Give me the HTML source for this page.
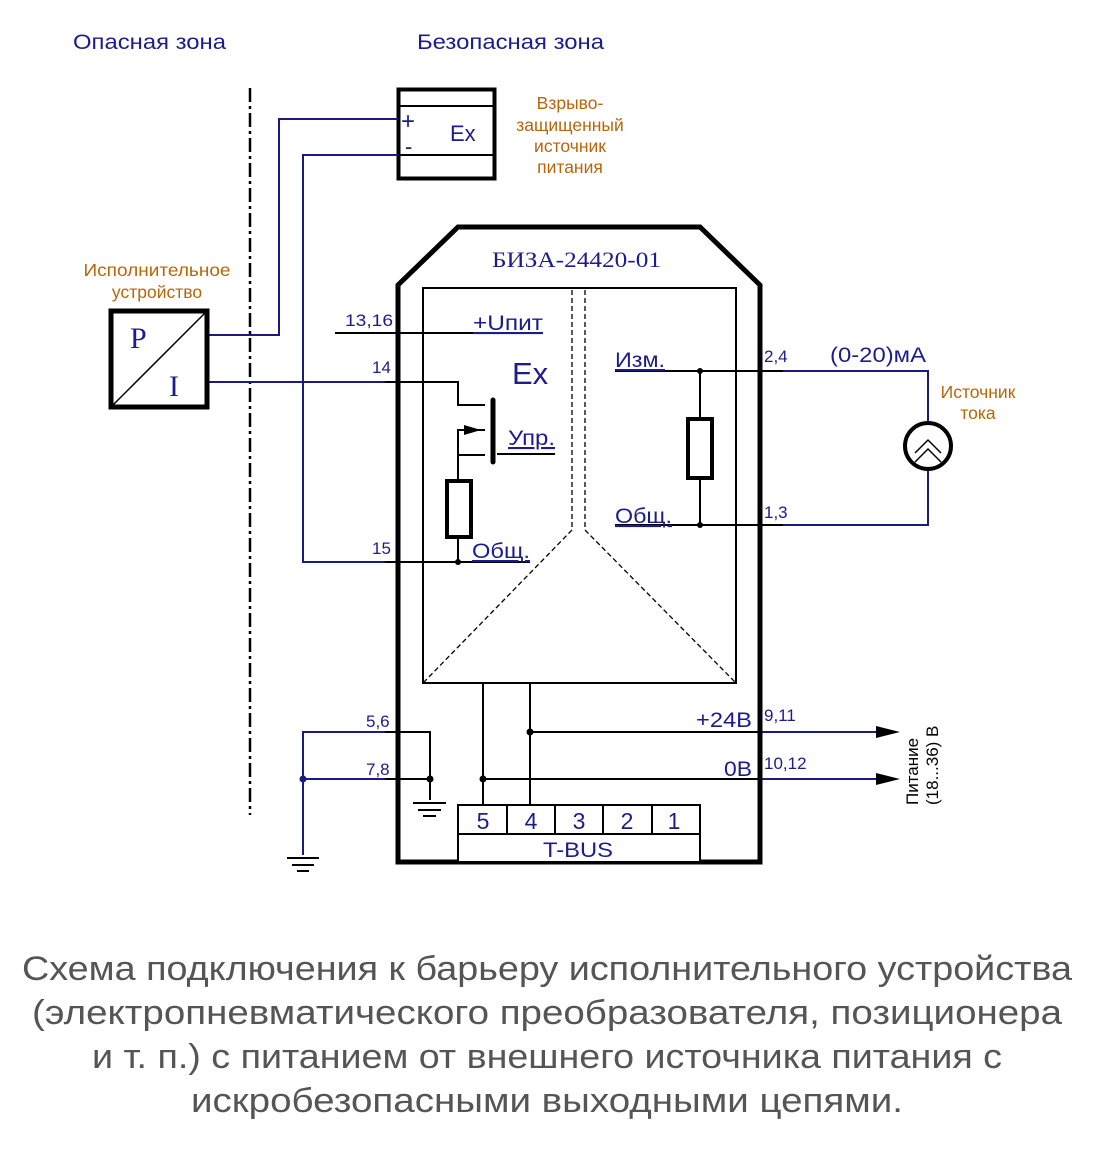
<!DOCTYPE html>
<html><head><meta charset="utf-8"><style>
html,body{margin:0;padding:0;background:#fff;width:1116px;height:1151px;overflow:hidden}
svg{display:block}
</style></head><body>
<svg width="1116" height="1151" viewBox="0 0 1116 1151" xmlns="http://www.w3.org/2000/svg" font-family="Liberation Sans, sans-serif">
<g fill="#1c1c8c" font-size="21">
<text x="73" y="49" textLength="153" lengthAdjust="spacingAndGlyphs">Опасная зона</text>
<text x="417" y="49" textLength="187" lengthAdjust="spacingAndGlyphs">Безопасная зона</text>
</g>
<line x1="250" y1="88" x2="250" y2="815" stroke="#000" stroke-width="2.5" stroke-dasharray="14,4,3,4"/>
<rect x="398.5" y="89.5" width="96" height="89" fill="none" stroke="#000" stroke-width="4"/>
<line x1="398" y1="106" x2="495" y2="106" stroke="#000" stroke-width="2"/>
<line x1="398" y1="155" x2="495" y2="155" stroke="#000" stroke-width="2"/>
<text x="401" y="129" font-size="24" fill="#1c1c8c">+</text>
<text x="405" y="154" font-size="22" fill="#1c1c8c">-</text>
<text x="450" y="141" font-size="22" fill="#1c1c8c">Ex</text>
<g fill="#b8660a" font-size="17.5" text-anchor="middle">
<text x="570" y="109">Взрыво-</text>
<text x="570" y="131">защищенный</text>
<text x="570" y="152">источник</text>
<text x="570" y="173">питания</text>
<text x="157" y="276" textLength="147" lengthAdjust="spacingAndGlyphs">Исполнительное</text>
<text x="157" y="298">устройство</text>
<text x="978" y="398">Источник</text>
<text x="978" y="419">тока</text>
</g>
<g stroke="#1a1a80" stroke-width="2" fill="none">
<polyline points="209,335 279,335 279,119 398,119"/>
<polyline points="385,562 303,562 303,155 398,155"/>
<line x1="209" y1="382" x2="385" y2="382"/>
<polyline points="783,371 928,371 928,422"/>
<polyline points="928,470 928,525 783,525"/>
<line x1="760" y1="732" x2="880" y2="732"/>
<line x1="760" y1="779" x2="880" y2="779"/>
<polyline points="385,732 303,732 303,855"/>
<line x1="303" y1="779" x2="385" y2="779"/>
</g>
<rect x="111" y="311" width="96" height="96" fill="none" stroke="#000" stroke-width="5"/>
<line x1="112" y1="406" x2="206" y2="312" stroke="#000" stroke-width="1.5"/>
<text x="130" y="348" font-family="Liberation Serif, serif" font-size="30" fill="#1c1c8c">P</text>
<text x="169" y="396" font-family="Liberation Serif, serif" font-size="30" fill="#1c1c8c">I</text>
<polygon points="398,285 458,227 700,227 760,285 760,862 398,862" fill="none" stroke="#000" stroke-width="5"/>
<text x="492" y="267" font-family="Liberation Serif, serif" font-size="22" fill="#1c1c8c" textLength="169" lengthAdjust="spacingAndGlyphs">БИЗА-24420-01</text>
<rect x="423" y="288" width="313" height="395" fill="none" stroke="#000" stroke-width="2"/>
<g stroke="#000" stroke-width="1.3" stroke-dasharray="5,3" fill="none">
<line x1="572" y1="290" x2="572" y2="530"/>
<line x1="585" y1="290" x2="585" y2="530"/>
<line x1="572" y1="530" x2="424" y2="682"/>
<line x1="585" y1="530" x2="735" y2="682"/>
</g>
<g stroke="#000" stroke-width="2" fill="none">
<line x1="335" y1="333" x2="543" y2="333"/>
<polyline points="385,382 458,382 458,405 485,405"/>
<polyline points="485,430 458,430 458,480"/>
<polyline points="485,455 458,455"/>
<line x1="497" y1="454" x2="555" y2="454"/>
<line x1="458" y1="538" x2="458" y2="562"/>
<line x1="385" y1="562" x2="530" y2="562"/>
<line x1="615" y1="371" x2="783" y2="371"/>
<line x1="615" y1="525" x2="783" y2="525"/>
<line x1="700" y1="371" x2="700" y2="418"/>
<line x1="700" y1="480" x2="700" y2="525"/>
<line x1="483" y1="683" x2="483" y2="805"/>
<line x1="530" y1="683" x2="530" y2="805"/>
<line x1="530" y1="732" x2="760" y2="732"/>
<line x1="483" y1="779" x2="760" y2="779"/>
<polyline points="385,732 430,732 430,800"/>
<line x1="385" y1="779" x2="430" y2="779"/>
<line x1="413" y1="803" x2="446" y2="803"/>
<line x1="418" y1="810" x2="441" y2="810"/>
<line x1="423" y1="816" x2="436" y2="816"/>
<line x1="287" y1="858" x2="319" y2="858"/>
<line x1="292" y1="865" x2="314" y2="865"/>
<line x1="297" y1="871" x2="309" y2="871"/>
</g>
<line x1="493" y1="400" x2="493" y2="462" stroke="#000" stroke-width="5" stroke-linecap="round"/>
<polygon points="464,425 464,435 481,430" fill="#000"/>
<rect x="447" y="481" width="24" height="56" fill="#fff" stroke="#000" stroke-width="4"/>
<rect x="688" y="419" width="24" height="59" fill="#fff" stroke="#000" stroke-width="4"/>
<circle cx="928" cy="446" r="23" fill="#fff" stroke="#000" stroke-width="4"/>
<polyline points="915,453 928,440 941,453" fill="none" stroke="#000" stroke-width="1.5"/>
<polyline points="915,462 928,449 941,462" fill="none" stroke="#000" stroke-width="1.5"/>
<g fill="#000">
<circle cx="458" cy="562" r="3"/><circle cx="700" cy="371" r="3"/><circle cx="700" cy="525" r="3"/>
<circle cx="530" cy="732" r="3.5"/><circle cx="483" cy="779" r="3.5"/><circle cx="430" cy="779" r="3.5"/>
</g>
<circle cx="303" cy="779" r="3.5" fill="#1a1a80"/>
<polygon points="876,726 900,732 876,738" fill="#000"/>
<polygon points="876,773 900,779 876,785" fill="#000"/>
<rect x="458" y="805" width="242" height="57" fill="#fff" stroke="#000" stroke-width="2"/>
<line x1="458" y1="834" x2="700" y2="834" stroke="#000" stroke-width="2"/>
<g stroke="#000" stroke-width="2"><line x1="507" y1="805" x2="507" y2="834"/><line x1="555" y1="805" x2="555" y2="834"/><line x1="603" y1="805" x2="603" y2="834"/><line x1="652" y1="805" x2="652" y2="834"/></g>
<g fill="#1c1c8c" font-size="23" text-anchor="middle">
<text x="483" y="829">5</text><text x="531" y="829">4</text><text x="579" y="829">3</text><text x="627" y="829">2</text><text x="674" y="829">1</text>
<text x="578" y="857" font-size="21" textLength="70" lengthAdjust="spacingAndGlyphs">T-BUS</text>
</g>
<g fill="#1c1c8c" font-size="17">
<text x="345" y="326" textLength="48" lengthAdjust="spacingAndGlyphs">13,16</text><text x="372" y="373">14</text><text x="372" y="554">15</text>
<text x="366" y="727">5,6</text><text x="366" y="775">7,8</text>
<text x="764" y="362">2,4</text><text x="764" y="518">1,3</text>
<text x="764" y="721">9,11</text><text x="764" y="769">10,12</text>
</g>
<g fill="#1c1c8c" font-size="21" text-decoration="underline">
<text x="473" y="330" textLength="70" lengthAdjust="spacingAndGlyphs">+Uпит</text>
<text x="508" y="445" textLength="47" lengthAdjust="spacingAndGlyphs">Упр.</text>
<text x="472" y="558" textLength="58" lengthAdjust="spacingAndGlyphs">Общ.</text>
<text x="615" y="367" textLength="50" lengthAdjust="spacingAndGlyphs">Изм.</text>
<text x="615" y="523" textLength="57" lengthAdjust="spacingAndGlyphs">Общ.</text>
</g>
<text x="512" y="384" font-size="31" fill="#1c1c8c">Ex</text>
<text x="830" y="362" font-size="21" fill="#1c1c8c" textLength="96" lengthAdjust="spacingAndGlyphs">(0-20)мА</text>
<text x="696" y="727" font-size="21" fill="#1c1c8c" textLength="56" lengthAdjust="spacingAndGlyphs">+24В</text>
<text x="724" y="776" font-size="21" fill="#1c1c8c" textLength="28" lengthAdjust="spacingAndGlyphs">0В</text>
<g transform="translate(918,805) rotate(-90)" font-size="17" fill="#000">
<text x="0" y="0">Питание</text>
<text x="0" y="20">(18...36) В</text>
</g>
<g fill="#555" font-size="34" text-anchor="middle">
<text x="547" y="980" textLength="1050" lengthAdjust="spacingAndGlyphs">Схема подключения к барьеру исполнительного устройства</text>
<text x="547" y="1024" textLength="1030" lengthAdjust="spacingAndGlyphs">(электропневматического преобразователя, позиционера</text>
<text x="547" y="1068" textLength="910" lengthAdjust="spacingAndGlyphs">и т. п.) с питанием от внешнего источника питания с</text>
<text x="547" y="1112" textLength="712" lengthAdjust="spacingAndGlyphs">искробезопасными выходными цепями.</text>
</g>
</svg>
</body></html>
